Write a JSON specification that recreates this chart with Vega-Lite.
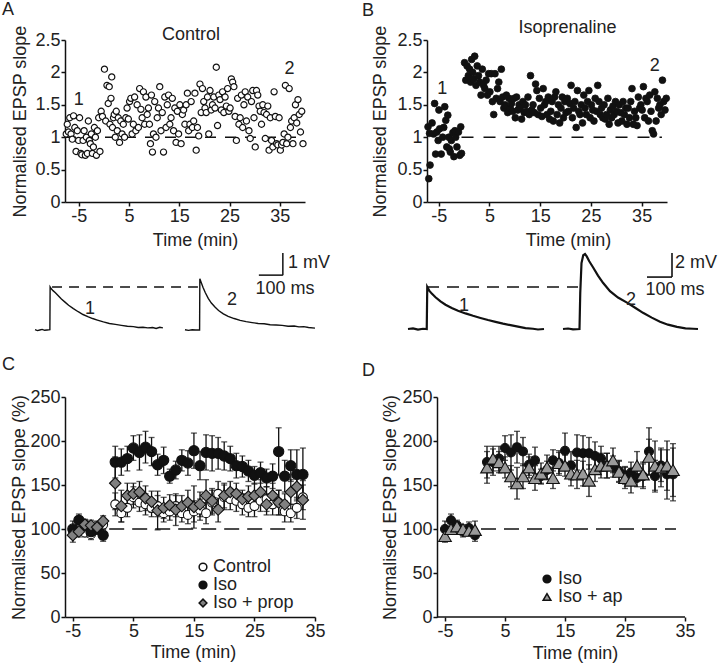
{
"$schema":"https://vega.github.io/schema/vega-lite/v6.json",
"autosize":"none",
"padding":{"left":65,"top":40,"right":655,"bottom":626},
"background":"white",
"columns":2,
"spacing":{"row":50,"column":112},
"bounds":"flush",
"align":"each",
"resolve":{"scale":{"fill":"independent","shape":"independent","size":"independent","stroke":"independent"},"legend":{"fill":"independent","shape":"independent","size":"independent","stroke":"independent"}},
"datasets":{
"ctrl":[{"t":-7.5,"v":1.05},{"t":-7.3,"v":1.2},{"t":-7.05,"v":1.08},{"t":-6.8,"v":1.3},{"t":-6.55,"v":1.05},{"t":-6.3,"v":0.97},{"t":-6.05,"v":1.33},{"t":-5.8,"v":1.15},{"t":-5.55,"v":0.78},{"t":-5.3,"v":1.1},{"t":-5.05,"v":0.95},
{"t":-4.85,"v":1.3},{"t":-4.6,"v":0.75},{"t":-4.4,"v":0.73},{"t":-4.15,"v":0.95},{"t":-3.95,"v":1.1},{"t":-3.7,"v":0.72},{"t":-3.5,"v":1.0},{"t":-3.3,"v":0.75},{"t":-3.1,"v":1.25},
{"t":-2.9,"v":0.95},{"t":-2.7,"v":0.9},{"t":-2.5,"v":1.05},{"t":-2.3,"v":0.75},{"t":-2.1,"v":0.85},{"t":-1.9,"v":1.15},{"t":-1.7,"v":1.0},{"t":-1.5,"v":0.72},{"t":-1.3,"v":1.1},
{"t":-1.05,"v":1.3},{"t":-0.8,"v":0.78},{"t":-0.55,"v":1.4},{"t":-0.3,"v":1.32},
{"t":0.1,"v":2.05},{"t":0.35,"v":1.25},{"t":0.6,"v":1.8},{"t":0.85,"v":1.52},
{"t":1.05,"v":1.78},{"t":1.2,"v":1.2},{"t":1.4,"v":1.6},{"t":1.55,"v":1.93},{"t":1.7,"v":1.15},{"t":1.9,"v":1.3},
{"t":2.05,"v":1.35},{"t":2.25,"v":1.0},{"t":2.45,"v":1.4},{"t":2.65,"v":1.1},{"t":2.85,"v":1.3},
{"t":3.1,"v":0.92},{"t":3.35,"v":1.25},{"t":3.6,"v":1.05},{"t":3.85,"v":1.2},
{"t":4.1,"v":1.0},{"t":4.35,"v":1.3},{"t":4.6,"v":1.45},{"t":4.85,"v":1.28},
{"t":5.1,"v":1.55},{"t":5.35,"v":1.6},{"t":5.6,"v":1.05},{"t":5.85,"v":1.2},
{"t":6.1,"v":1.62},{"t":6.35,"v":1.1},{"t":6.6,"v":1.5},{"t":6.85,"v":1.15},
{"t":7.1,"v":1.75},{"t":7.35,"v":1.43},{"t":7.6,"v":1.3},{"t":7.85,"v":1.7},
{"t":8.1,"v":1.2},{"t":8.35,"v":1.62},{"t":8.6,"v":1.35},{"t":8.85,"v":1.45},
{"t":9.05,"v":1.2},{"t":9.25,"v":0.9},{"t":9.45,"v":1.65},{"t":9.65,"v":0.77},{"t":9.85,"v":1.05},
{"t":10.1,"v":1.55},{"t":10.35,"v":1.0},{"t":10.6,"v":1.3},{"t":10.85,"v":1.45},
{"t":11.1,"v":1.78},{"t":11.35,"v":1.1},{"t":11.6,"v":1.38},{"t":11.85,"v":0.77},
{"t":12.1,"v":1.62},{"t":12.35,"v":1.15},{"t":12.6,"v":1.5},{"t":12.85,"v":1.65},
{"t":13.1,"v":1.2},{"t":13.35,"v":1.3},{"t":13.6,"v":1.6},{"t":13.85,"v":1.1},
{"t":14.1,"v":1.45},{"t":14.35,"v":0.92},{"t":14.6,"v":1.4},{"t":14.85,"v":1.05},
{"t":15.1,"v":1.5},{"t":15.35,"v":0.9},{"t":15.6,"v":1.35},{"t":15.85,"v":1.42},
{"t":16.1,"v":1.2},{"t":16.35,"v":1.5},{"t":16.6,"v":1.68},{"t":16.85,"v":1.1},
{"t":17.1,"v":1.2},{"t":17.35,"v":1.55},{"t":17.6,"v":1.15},{"t":17.85,"v":1.25},
{"t":18.1,"v":1.68},{"t":18.35,"v":0.8},{"t":18.6,"v":1.15},{"t":18.85,"v":1.02},
{"t":19.1,"v":1.82},{"t":19.35,"v":1.38},{"t":19.6,"v":1.75},{"t":19.85,"v":1.55},
{"t":20.1,"v":1.45},{"t":20.35,"v":1.38},{"t":20.6,"v":1.62},{"t":20.85,"v":1.05},
{"t":21.1,"v":1.72},{"t":21.35,"v":1.42},{"t":21.6,"v":1.5},{"t":21.85,"v":1.62},
{"t":22.1,"v":1.45},{"t":22.35,"v":2.08},{"t":22.6,"v":1.18},{"t":22.85,"v":1.65},
{"t":23.1,"v":1.58},{"t":23.35,"v":1.42},{"t":23.6,"v":1.7},{"t":23.85,"v":1.38},
{"t":24.1,"v":1.62},{"t":24.35,"v":1.48},{"t":24.6,"v":1.75},{"t":24.85,"v":1.4},
{"t":25.1,"v":1.45},{"t":25.35,"v":1.9},{"t":25.6,"v":1.85},{"t":25.85,"v":1.78},
{"t":26.1,"v":1.32},{"t":26.35,"v":0.95},{"t":26.6,"v":1.6},{"t":26.85,"v":1.2},
{"t":27.1,"v":1.3},{"t":27.35,"v":1.65},{"t":27.6,"v":1.15},{"t":27.85,"v":1.5},
{"t":28.1,"v":1.7},{"t":28.35,"v":1.25},{"t":28.6,"v":1.62},{"t":28.85,"v":1.1},
{"t":29.1,"v":0.98},{"t":29.35,"v":1.55},{"t":29.6,"v":1.72},{"t":29.85,"v":1.3},
{"t":30.1,"v":0.85},{"t":30.35,"v":1.72},{"t":30.6,"v":1.65},{"t":30.85,"v":1.48},
{"t":31.1,"v":1.4},{"t":31.35,"v":1.2},{"t":31.6,"v":1.5},{"t":31.85,"v":1.38},
{"t":32.1,"v":0.98},{"t":32.35,"v":1.35},{"t":32.6,"v":1.48},{"t":32.85,"v":0.8},
{"t":33.1,"v":1.3},{"t":33.35,"v":0.95},{"t":33.6,"v":0.85},{"t":33.85,"v":1.7},
{"t":34.1,"v":1.32},{"t":34.35,"v":0.9},{"t":34.6,"v":0.88},{"t":34.85,"v":1.3},
{"t":35.1,"v":0.8},{"t":35.35,"v":0.88},{"t":35.6,"v":0.92},{"t":35.85,"v":1.05},
{"t":36.1,"v":1.8},{"t":36.35,"v":0.9},{"t":36.6,"v":1.0},{"t":36.85,"v":1.75},
{"t":37.1,"v":1.15},{"t":37.35,"v":1.25},{"t":37.6,"v":0.9},{"t":37.85,"v":1.3},
{"t":38.1,"v":1.5},{"t":38.35,"v":1.22},{"t":38.6,"v":1.58},{"t":38.85,"v":1.35},
{"t":39.1,"v":1.08},{"t":39.35,"v":1.4},{"t":39.6,"v":0.9}],
"isop":[{"t":-7.1,"v":1.16},{"t":-6.95,"v":0.36},{"t":-6.8,"v":1.06},{"t":-6.7,"v":0.57},{"t":-6.3,"v":1.22},{"t":-6.0,"v":1.05},{"t":-5.8,"v":1.52},{"t":-5.6,"v":0.74},{"t":-5.35,"v":1.08},{"t":-5.1,"v":0.95},{"t":-4.95,"v":1.42},{"t":-4.8,"v":1.13},{"t":-4.5,"v":0.74},{"t":-4.2,"v":1.0},{"t":-4.0,"v":1.15},{"t":-3.8,"v":1.47},{"t":-3.6,"v":1.26},{"t":-3.4,"v":0.85},{"t":-3.2,"v":1.34},{"t":-3.0,"v":1.0},{"t":-2.9,"v":0.82},{"t":-2.7,"v":0.77},{"t":-2.5,"v":0.95},{"t":-2.2,"v":1.07},{"t":-2.0,"v":0.7},{"t":-1.8,"v":1.1},{"t":-1.65,"v":1.0},{"t":-1.4,"v":0.85},{"t":-1.1,"v":1.08},{"t":-0.85,"v":0.72},{"t":-0.65,"v":1.16},{"t":-0.5,"v":0.75},
{"t":0.1,"v":2.15},{"t":0.35,"v":1.88},{"t":0.6,"v":2.1},{"t":0.85,"v":1.95},
{"t":1.1,"v":2.05},{"t":1.3,"v":1.85},{"t":1.5,"v":2.2},{"t":1.7,"v":2.0},{"t":1.9,"v":1.9},
{"t":2.1,"v":2.25},{"t":2.35,"v":1.8},{"t":2.6,"v":2.1},{"t":2.85,"v":1.95},
{"t":3.1,"v":1.85},{"t":3.35,"v":1.65},{"t":3.6,"v":2.05},{"t":3.85,"v":1.8},
{"t":4.1,"v":1.75},{"t":4.35,"v":1.88},{"t":4.6,"v":1.65},{"t":4.85,"v":1.98},
{"t":5.1,"v":1.7},{"t":5.35,"v":1.98},{"t":5.6,"v":1.55},{"t":5.85,"v":1.35},
{"t":6.1,"v":1.98},{"t":6.35,"v":1.6},{"t":6.6,"v":1.75},{"t":6.85,"v":1.85},
{"t":7.1,"v":1.55},{"t":7.35,"v":2.05},{"t":7.6,"v":1.62},{"t":7.85,"v":1.45},
{"t":8.1,"v":1.5},{"t":8.35,"v":1.65},{"t":8.6,"v":1.38},{"t":8.85,"v":1.6},
{"t":9.1,"v":1.45},{"t":9.35,"v":1.52},{"t":9.6,"v":1.4},{"t":9.85,"v":1.6},
{"t":10.1,"v":1.3},{"t":10.35,"v":1.62},{"t":10.6,"v":1.42},{"t":10.85,"v":1.5},
{"t":11.1,"v":1.45},{"t":11.35,"v":1.28},{"t":11.6,"v":1.55},{"t":11.85,"v":1.38},
{"t":12.1,"v":1.5},{"t":12.35,"v":1.4},{"t":12.6,"v":1.62},{"t":12.85,"v":1.35},
{"t":13.1,"v":1.95},{"t":13.35,"v":1.42},{"t":13.6,"v":1.5},{"t":13.85,"v":1.38},
{"t":14.1,"v":1.82},{"t":14.35,"v":1.72},{"t":14.6,"v":1.35},{"t":14.85,"v":1.6},
{"t":15.1,"v":1.45},{"t":15.35,"v":1.32},{"t":15.6,"v":1.75},{"t":15.85,"v":1.5},
{"t":16.1,"v":1.55},{"t":16.35,"v":1.35},{"t":16.6,"v":1.62},{"t":16.85,"v":1.28},
{"t":17.1,"v":1.4},{"t":17.35,"v":1.55},{"t":17.6,"v":1.25},{"t":17.85,"v":1.62},
{"t":18.1,"v":1.7},{"t":18.35,"v":1.35},{"t":18.6,"v":1.5},{"t":18.85,"v":1.22},
{"t":19.1,"v":1.45},{"t":19.35,"v":1.62},{"t":19.6,"v":1.3},{"t":19.85,"v":1.55},
{"t":20.1,"v":1.38},{"t":20.35,"v":1.6},{"t":20.6,"v":1.4},{"t":20.85,"v":1.52},
{"t":21.1,"v":1.8},{"t":21.35,"v":1.3},{"t":21.6,"v":1.45},{"t":21.85,"v":1.55},
{"t":22.1,"v":1.15},{"t":22.35,"v":1.72},{"t":22.6,"v":1.4},{"t":22.85,"v":1.35},
{"t":23.1,"v":1.5},{"t":23.35,"v":1.22},{"t":23.6,"v":1.65},{"t":23.85,"v":1.45},
{"t":24.1,"v":1.35},{"t":24.35,"v":1.55},{"t":24.6,"v":1.72},{"t":24.85,"v":1.3},
{"t":25.1,"v":1.5},{"t":25.35,"v":1.42},{"t":25.6,"v":1.25},{"t":25.85,"v":1.6},
{"t":26.1,"v":1.4},{"t":26.35,"v":1.8},{"t":26.6,"v":1.55},{"t":26.85,"v":1.35},
{"t":27.1,"v":1.45},{"t":27.35,"v":1.3},{"t":27.6,"v":1.5},{"t":27.85,"v":1.28},
{"t":28.1,"v":1.35},{"t":28.35,"v":1.6},{"t":28.6,"v":1.2},{"t":28.85,"v":1.42},
{"t":29.1,"v":1.3},{"t":29.35,"v":1.48},{"t":29.6,"v":1.35},{"t":29.85,"v":1.55},
{"t":30.1,"v":1.4},{"t":30.35,"v":1.22},{"t":30.6,"v":1.5},{"t":30.85,"v":1.38},
{"t":31.1,"v":1.25},{"t":31.35,"v":1.55},{"t":31.6,"v":1.35},{"t":31.85,"v":1.45},
{"t":32.1,"v":1.2},{"t":32.35,"v":1.45},{"t":32.6,"v":1.3},{"t":32.85,"v":1.55},
{"t":33.1,"v":1.75},{"t":33.35,"v":1.2},{"t":33.6,"v":1.4},{"t":33.85,"v":1.3},
{"t":34.1,"v":1.18},{"t":34.35,"v":1.62},{"t":34.6,"v":1.45},{"t":34.85,"v":1.5},
{"t":35.1,"v":1.42},{"t":35.35,"v":1.78},{"t":35.6,"v":1.3},{"t":35.85,"v":1.6},
{"t":36.1,"v":1.55},{"t":36.35,"v":1.25},{"t":36.6,"v":1.65},{"t":36.85,"v":1.4},
{"t":37.1,"v":1.1},{"t":37.35,"v":1.05},{"t":37.6,"v":1.7},{"t":37.85,"v":1.25},
{"t":38.1,"v":1.6},{"t":38.35,"v":1.45},{"t":38.6,"v":1.5},{"t":38.85,"v":1.35},
{"t":39.1,"v":1.88},{"t":39.35,"v":1.55},{"t":39.6,"v":1.42},{"t":39.85,"v":1.6}],
"trA":[{"s":"1","ms":0,"mv":0.01},{"s":"1","ms":10,"mv":-0.02},{"s":"1","ms":20,"mv":0.0},{"s":"1","ms":30,"mv":0.02},{"s":"1","ms":40,"mv":-0.01},{"s":"1","ms":50,"mv":0.0},{"s":"1","ms":62,"mv":0.01},{"s":"1","ms":63,"mv":1.39},{"s":"1","ms":68,"mv":1.33},{"s":"1","ms":75,"mv":1.27},{"s":"1","ms":85,"mv":1.2},{"s":"1","ms":95,"mv":1.12},{"s":"1","ms":110,"mv":1.0},{"s":"1","ms":125,"mv":0.9},{"s":"1","ms":140,"mv":0.8},{"s":"1","ms":160,"mv":0.69},{"s":"1","ms":180,"mv":0.59},{"s":"1","ms":200,"mv":0.5},{"s":"1","ms":220,"mv":0.43},{"s":"1","ms":240,"mv":0.37},{"s":"1","ms":260,"mv":0.32},{"s":"1","ms":285,"mv":0.26},{"s":"1","ms":310,"mv":0.21},{"s":"1","ms":335,"mv":0.18},{"s":"1","ms":360,"mv":0.15},{"s":"1","ms":385,"mv":0.12},{"s":"1","ms":410,"mv":0.11},{"s":"1","ms":430,"mv":0.08},{"s":"1","ms":450,"mv":0.09},{"s":"1","ms":470,"mv":0.07},{"s":"1","ms":490,"mv":0.08},{"s":"1","ms":505,"mv":0.05},{"s":"1","ms":520,"mv":0.09},{"s":"1","ms":533,"mv":0.07},
{"s":"2","ms":625,"mv":0.01},{"s":"2","ms":640,"mv":-0.01},{"s":"2","ms":655,"mv":0.01},{"s":"2","ms":670,"mv":0.0},{"s":"2","ms":686,"mv":0.0},{"s":"2","ms":687,"mv":1.65},{"s":"2","ms":692,"mv":1.55},{"s":"2","ms":700,"mv":1.38},{"s":"2","ms":710,"mv":1.2},{"s":"2","ms":722,"mv":1.02},{"s":"2","ms":735,"mv":0.87},{"s":"2","ms":750,"mv":0.74},{"s":"2","ms":765,"mv":0.63},{"s":"2","ms":785,"mv":0.52},{"s":"2","ms":805,"mv":0.44},{"s":"2","ms":830,"mv":0.37},{"s":"2","ms":855,"mv":0.31},{"s":"2","ms":880,"mv":0.27},{"s":"2","ms":905,"mv":0.24},{"s":"2","ms":930,"mv":0.21},{"s":"2","ms":955,"mv":0.2},{"s":"2","ms":980,"mv":0.17},{"s":"2","ms":1005,"mv":0.16},{"s":"2","ms":1030,"mv":0.15},{"s":"2","ms":1055,"mv":0.12},{"s":"2","ms":1080,"mv":0.13},{"s":"2","ms":1100,"mv":0.1},{"s":"2","ms":1120,"mv":0.11},{"s":"2","ms":1140,"mv":0.08},{"s":"2","ms":1167,"mv":0.06}],
"trB":[{"s":"1","ms":0,"mv":0.0},{"s":"1","ms":20,"mv":0.05},{"s":"1","ms":40,"mv":-0.05},{"s":"1","ms":60,"mv":0.02},{"s":"1","ms":75,"mv":0.0},{"s":"1","ms":77,"mv":3.5},{"s":"1","ms":85,"mv":3.2},{"s":"1","ms":95,"mv":2.95},{"s":"1","ms":110,"mv":2.65},{"s":"1","ms":130,"mv":2.3},{"s":"1","ms":150,"mv":2.02},{"s":"1","ms":175,"mv":1.75},{"s":"1","ms":200,"mv":1.52},{"s":"1","ms":230,"mv":1.3},{"s":"1","ms":260,"mv":1.1},{"s":"1","ms":290,"mv":0.92},{"s":"1","ms":320,"mv":0.75},{"s":"1","ms":350,"mv":0.6},{"s":"1","ms":380,"mv":0.45},{"s":"1","ms":410,"mv":0.32},{"s":"1","ms":440,"mv":0.2},{"s":"1","ms":470,"mv":0.08},{"s":"1","ms":500,"mv":0.02},{"s":"1","ms":520,"mv":-0.04},{"s":"1","ms":544,"mv":0.0},
{"s":"2","ms":620,"mv":0.0},{"s":"2","ms":640,"mv":0.04},{"s":"2","ms":660,"mv":-0.03},{"s":"2","ms":686,"mv":0.0},{"s":"2","ms":689,"mv":3.0},{"s":"2","ms":694,"mv":5.5},{"s":"2","ms":701,"mv":6.15},{"s":"2","ms":708,"mv":6.25},{"s":"2","ms":715,"mv":6.05},{"s":"2","ms":725,"mv":5.65},{"s":"2","ms":740,"mv":5.15},{"s":"2","ms":760,"mv":4.45},{"s":"2","ms":780,"mv":3.85},{"s":"2","ms":808,"mv":3.15},{"s":"2","ms":840,"mv":2.62},{"s":"2","ms":876,"mv":2.2},{"s":"2","ms":910,"mv":1.75},{"s":"2","ms":940,"mv":1.35},{"s":"2","ms":975,"mv":0.95},{"s":"2","ms":1008,"mv":0.6},{"s":"2","ms":1040,"mv":0.36},{"s":"2","ms":1076,"mv":0.18},{"s":"2","ms":1110,"mv":0.06},{"s":"2","ms":1140,"mv":0.02},{"s":"2","ms":1160,"mv":0.0}],
"c":[
{"g":"Control","t":-5,"m":98,"e":6},{"g":"Control","t":-4,"m":100,"e":6},{"g":"Control","t":-3,"m":96,"e":5},{"g":"Control","t":-2,"m":94,"e":6},{"g":"Control","t":-1,"m":100,"e":6},{"g":"Control","t":0,"m":105,"e":6},
{"g":"Control","t":2,"m":128,"e":13},{"g":"Control","t":3,"m":118,"e":10},{"g":"Control","t":4,"m":124,"e":10},{"g":"Control","t":5,"m":136,"e":12},{"g":"Control","t":6,"m":130,"e":10},{"g":"Control","t":7,"m":128,"e":12},{"g":"Control","t":8,"m":124,"e":10},{"g":"Control","t":9,"m":126,"e":12},{"g":"Control","t":10,"m":118,"e":10},{"g":"Control","t":11,"m":120,"e":10},{"g":"Control","t":12,"m":126,"e":12},{"g":"Control","t":13,"m":118,"e":10},{"g":"Control","t":14,"m":116,"e":10},{"g":"Control","t":15,"m":120,"e":12},{"g":"Control","t":16,"m":122,"e":12},{"g":"Control","t":17,"m":118,"e":12},{"g":"Control","t":18,"m":130,"e":14},{"g":"Control","t":19,"m":140,"e":14},{"g":"Control","t":20,"m":136,"e":14},{"g":"Control","t":21,"m":134,"e":12},{"g":"Control","t":22,"m":132,"e":12},{"g":"Control","t":23,"m":128,"e":12},{"g":"Control","t":24,"m":124,"e":10},{"g":"Control","t":25,"m":126,"e":12},{"g":"Control","t":26,"m":132,"e":12},{"g":"Control","t":27,"m":134,"e":14},{"g":"Control","t":28,"m":128,"e":12},{"g":"Control","t":29,"m":130,"e":14},{"g":"Control","t":30,"m":120,"e":12},{"g":"Control","t":31,"m":118,"e":10},{"g":"Control","t":32,"m":124,"e":12},{"g":"Control","t":33,"m":136,"e":14},
{"g":"Iso","t":-5,"m":100,"e":9},{"g":"Iso","t":-4,"m":110,"e":7},{"g":"Iso","t":-3,"m":104,"e":6},{"g":"Iso","t":-2,"m":97,"e":6},{"g":"Iso","t":-1,"m":101,"e":7},{"g":"Iso","t":0,"m":93,"e":7},
{"g":"Iso","t":2,"m":176,"e":18},{"g":"Iso","t":3,"m":176,"e":15},{"g":"Iso","t":4,"m":180,"e":14},{"g":"Iso","t":5,"m":192,"e":14},{"g":"Iso","t":6,"m":187,"e":20},{"g":"Iso","t":7,"m":193,"e":18},{"g":"Iso","t":8,"m":188,"e":16},{"g":"Iso","t":9,"m":173,"e":12},{"g":"Iso","t":10,"m":178,"e":15},{"g":"Iso","t":11,"m":160,"e":8},{"g":"Iso","t":12,"m":167,"e":10},{"g":"Iso","t":13,"m":178,"e":12},{"g":"Iso","t":14,"m":175,"e":14},{"g":"Iso","t":15,"m":189,"e":20},{"g":"Iso","t":16,"m":172,"e":16},{"g":"Iso","t":17,"m":187,"e":20},{"g":"Iso","t":18,"m":186,"e":20},{"g":"Iso","t":19,"m":186,"e":18},{"g":"Iso","t":20,"m":183,"e":16},{"g":"Iso","t":21,"m":180,"e":14},{"g":"Iso","t":22,"m":172,"e":14},{"g":"Iso","t":23,"m":171,"e":12},{"g":"Iso","t":24,"m":166,"e":12},{"g":"Iso","t":25,"m":161,"e":10},{"g":"Iso","t":26,"m":164,"e":12},{"g":"Iso","t":27,"m":158,"e":10},{"g":"Iso","t":28,"m":160,"e":14},{"g":"Iso","t":29,"m":188,"e":27},{"g":"Iso","t":30,"m":160,"e":18},{"g":"Iso","t":31,"m":172,"e":18},{"g":"Iso","t":32,"m":162,"e":28},{"g":"Iso","t":33,"m":162,"e":30},
{"g":"Iso + prop","t":-5,"m":93,"e":8},{"g":"Iso + prop","t":-4,"m":97,"e":6},{"g":"Iso + prop","t":-3,"m":105,"e":6},{"g":"Iso + prop","t":-2,"m":104,"e":6},{"g":"Iso + prop","t":-1,"m":102,"e":7},{"g":"Iso + prop","t":0,"m":109,"e":6},
{"g":"Iso + prop","t":2,"m":152,"e":30},{"g":"Iso + prop","t":3,"m":126,"e":18},{"g":"Iso + prop","t":4,"m":138,"e":14},{"g":"Iso + prop","t":5,"m":140,"e":12},{"g":"Iso + prop","t":6,"m":142,"e":12},{"g":"Iso + prop","t":7,"m":135,"e":14},{"g":"Iso + prop","t":8,"m":131,"e":12},{"g":"Iso + prop","t":9,"m":121,"e":22},{"g":"Iso + prop","t":10,"m":124,"e":12},{"g":"Iso + prop","t":11,"m":127,"e":12},{"g":"Iso + prop","t":12,"m":122,"e":18},{"g":"Iso + prop","t":13,"m":126,"e":12},{"g":"Iso + prop","t":14,"m":130,"e":14},{"g":"Iso + prop","t":15,"m":125,"e":24},{"g":"Iso + prop","t":16,"m":128,"e":14},{"g":"Iso + prop","t":17,"m":138,"e":18},{"g":"Iso + prop","t":18,"m":132,"e":14},{"g":"Iso + prop","t":19,"m":122,"e":14},{"g":"Iso + prop","t":20,"m":138,"e":14},{"g":"Iso + prop","t":21,"m":142,"e":12},{"g":"Iso + prop","t":22,"m":140,"e":12},{"g":"Iso + prop","t":23,"m":134,"e":10},{"g":"Iso + prop","t":24,"m":137,"e":12},{"g":"Iso + prop","t":25,"m":138,"e":14},{"g":"Iso + prop","t":26,"m":142,"e":14},{"g":"Iso + prop","t":27,"m":128,"e":12},{"g":"Iso + prop","t":28,"m":138,"e":14},{"g":"Iso + prop","t":29,"m":130,"e":14},{"g":"Iso + prop","t":30,"m":128,"e":12},{"g":"Iso + prop","t":31,"m":142,"e":14},{"g":"Iso + prop","t":32,"m":148,"e":16},{"g":"Iso + prop","t":33,"m":133,"e":22}],
"d":[
{"g":"Iso","t":-5,"m":100,"e":9},{"g":"Iso","t":-4,"m":110,"e":7},{"g":"Iso","t":-3,"m":104,"e":6},{"g":"Iso","t":-2,"m":97,"e":6},{"g":"Iso","t":-1,"m":101,"e":7},{"g":"Iso","t":0,"m":93,"e":7},
{"g":"Iso","t":2,"m":176,"e":18},{"g":"Iso","t":3,"m":176,"e":15},{"g":"Iso","t":4,"m":180,"e":14},{"g":"Iso","t":5,"m":192,"e":14},{"g":"Iso","t":6,"m":187,"e":20},{"g":"Iso","t":7,"m":193,"e":18},{"g":"Iso","t":8,"m":188,"e":16},{"g":"Iso","t":9,"m":173,"e":12},{"g":"Iso","t":10,"m":178,"e":15},{"g":"Iso","t":11,"m":160,"e":8},{"g":"Iso","t":12,"m":167,"e":10},{"g":"Iso","t":13,"m":178,"e":12},{"g":"Iso","t":14,"m":175,"e":14},{"g":"Iso","t":15,"m":189,"e":20},{"g":"Iso","t":16,"m":172,"e":16},{"g":"Iso","t":17,"m":187,"e":20},{"g":"Iso","t":18,"m":186,"e":20},{"g":"Iso","t":19,"m":186,"e":18},{"g":"Iso","t":20,"m":183,"e":16},{"g":"Iso","t":21,"m":180,"e":14},{"g":"Iso","t":22,"m":172,"e":14},{"g":"Iso","t":23,"m":171,"e":12},{"g":"Iso","t":24,"m":166,"e":12},{"g":"Iso","t":25,"m":161,"e":10},{"g":"Iso","t":26,"m":164,"e":12},{"g":"Iso","t":27,"m":158,"e":10},{"g":"Iso","t":28,"m":160,"e":14},{"g":"Iso","t":29,"m":188,"e":27},{"g":"Iso","t":30,"m":160,"e":18},{"g":"Iso","t":31,"m":172,"e":18},{"g":"Iso","t":32,"m":162,"e":28},{"g":"Iso","t":33,"m":162,"e":30},
{"g":"Iso + ap","t":-5,"m":92,"e":7},{"g":"Iso + ap","t":-4,"m":100,"e":6},{"g":"Iso + ap","t":-3,"m":103,"e":5},{"g":"Iso + ap","t":-2,"m":100,"e":5},{"g":"Iso + ap","t":-1,"m":98,"e":6},{"g":"Iso + ap","t":0,"m":99,"e":10},
{"g":"Iso + ap","t":2,"m":170,"e":18},{"g":"Iso + ap","t":3,"m":180,"e":14},{"g":"Iso + ap","t":4,"m":176,"e":12},{"g":"Iso + ap","t":5,"m":170,"e":12},{"g":"Iso + ap","t":6,"m":160,"e":12},{"g":"Iso + ap","t":7,"m":152,"e":18},{"g":"Iso + ap","t":8,"m":160,"e":14},{"g":"Iso + ap","t":9,"m":170,"e":12},{"g":"Iso + ap","t":10,"m":158,"e":14},{"g":"Iso + ap","t":11,"m":163,"e":12},{"g":"Iso + ap","t":12,"m":170,"e":14},{"g":"Iso + ap","t":13,"m":158,"e":12},{"g":"Iso + ap","t":14,"m":175,"e":12},{"g":"Iso + ap","t":15,"m":172,"e":12},{"g":"Iso + ap","t":16,"m":163,"e":14},{"g":"Iso + ap","t":17,"m":162,"e":16},{"g":"Iso + ap","t":18,"m":163,"e":14},{"g":"Iso + ap","t":19,"m":155,"e":18},{"g":"Iso + ap","t":20,"m":168,"e":14},{"g":"Iso + ap","t":21,"m":172,"e":14},{"g":"Iso + ap","t":22,"m":172,"e":14},{"g":"Iso + ap","t":23,"m":178,"e":14},{"g":"Iso + ap","t":24,"m":165,"e":12},{"g":"Iso + ap","t":25,"m":158,"e":12},{"g":"Iso + ap","t":26,"m":155,"e":14},{"g":"Iso + ap","t":27,"m":172,"e":16},{"g":"Iso + ap","t":28,"m":162,"e":14},{"g":"Iso + ap","t":29,"m":182,"e":20},{"g":"Iso + ap","t":30,"m":172,"e":28},{"g":"Iso + ap","t":31,"m":170,"e":22},{"g":"Iso + ap","t":32,"m":172,"e":28},{"g":"Iso + ap","t":33,"m":167,"e":30}]
},
"concat":[
{"width":240,"height":162,
 "title":{"text":"A","anchor":"start","frame":"group","dx":-63,"offset":-8,"baseline":"alphabetic"},
 "layer":[
  {"data":{"values":[{"a":-7.75,"b":39.2,"v":1}]},
   "mark":{"type":"rule","strokeDash":[11,9],"strokeWidth":1.5,"color":"#111"},
   "encoding":{"x":{"field":"a","type":"quantitative","scale":{"domain":[-7.75,40],"nice":false,"zero":false},
      "axis":{"orient":"bottom","title":"Time (min)","values":[-5,0,5,10,15,20,25,30,35,40],"labelExpr":"datum.value == 10 || datum.value == 20 || datum.value == 30 || datum.value == 40 ? '' : datum.value + ''","titleX":130,"titleY":38,"titleBaseline":"middle","titleAlign":"center"}},
    "x2":{"field":"b"},
    "y":{"field":"v","type":"quantitative","scale":{"domain":[0,2.5],"nice":false,"zero":false},
      "axis":{"title":"Normalised EPSP slope","values":[0,0.5,1,1.5,2,2.5],"tickCount":6,"tickMinStep":0.5,"labelExpr":"datum.value + ''","labelOverlap":false,"labelBound":false,"titleX":-45,"titleBaseline":"middle","titleAlign":"center"}}}},
  {"data":{"name":"ctrl"},
   "mark":{"type":"point","shape":"circle","filled":true,"fill":"white","stroke":"#111","strokeWidth":1.2,"size":38,"opacity":1},
   "encoding":{"x":{"field":"t","type":"quantitative"},"y":{"field":"v","type":"quantitative"}}},
  {"data":{"values":[{"t":-5,"v":1.57,"s":"1"},{"t":36.9,"v":2.06,"s":"2"},{"t":17.3,"v":2.57,"s":"Control"}]},
   "mark":{"type":"text","fontSize":18,"color":"#222","baseline":"middle"},
   "encoding":{"x":{"field":"t","type":"quantitative"},"y":{"field":"v","type":"quantitative"},"text":{"field":"s"}}}
 ]},
{"width":240,"height":162,
 "title":{"text":"B","anchor":"start","frame":"group","dx":-65,"offset":-15,"baseline":"alphabetic"},
 "layer":[
  {"data":{"values":[{"a":-0.5,"b":39,"v":1}]},
   "mark":{"type":"rule","strokeDash":[12,10],"strokeWidth":1.5,"color":"#111"},
   "encoding":{"x":{"field":"a","type":"quantitative","scale":{"domain":[-7.3,40],"nice":false,"zero":false},
      "axis":{"orient":"bottom","title":"Time (min)","values":[-5,0,5,10,15,20,25,30,35,40],"labelExpr":"datum.value == 10 || datum.value == 20 || datum.value == 30 || datum.value == 40 ? '' : datum.value + ''","titleX":141,"titleY":38,"titleBaseline":"middle","titleAlign":"center"}},
    "x2":{"field":"b"},
    "y":{"field":"v","type":"quantitative","scale":{"domain":[0,2.5],"nice":false,"zero":false},
      "axis":{"title":"Normalised EPSP slope","values":[0,0.5,1,1.5,2,2.5],"tickCount":6,"tickMinStep":0.5,"labelExpr":"datum.value + ''","labelOverlap":false,"labelBound":false,"titleX":-47,"titleBaseline":"middle","titleAlign":"center"}}}},
  {"data":{"name":"isop"},
   "mark":{"type":"point","shape":"circle","filled":true,"fill":"#111","stroke":"#111","strokeWidth":0.8,"size":46,"opacity":1},
   "encoding":{"x":{"field":"t","type":"quantitative"},"y":{"field":"v","type":"quantitative"}}},
  {"data":{"values":[{"t":-4.3,"v":1.75,"s":"1"},{"t":37.6,"v":2.1,"s":"2"},{"t":20.4,"v":2.68,"s":"Isoprenaline"}]},
   "mark":{"type":"text","fontSize":18,"color":"#222","baseline":"middle"},
   "encoding":{"x":{"field":"t","type":"quantitative"},"y":{"field":"v","type":"quantitative"},"text":{"field":"s"}}}
 ]},
{"width":250,"height":95,
 "layer":[
  {"data":{"name":"trA"},
   "mark":{"type":"line","color":"#111","strokeWidth":1.4},
   "encoding":{"x":{"field":"ms","type":"quantitative","scale":{"domain":[125,1167],"nice":false,"zero":false},"axis":null},
    "y":{"field":"mv","type":"quantitative","scale":{"domain":[-0.548,2.516],"nice":false,"zero":false},"axis":null},
    "detail":{"field":"s"}}},
  {"data":{"values":[{"a":71,"b":679,"mv":1.39}]},
   "mark":{"type":"rule","strokeDash":[10,7],"strokeWidth":1.5,"color":"#111"},
   "encoding":{"x":{"field":"a","type":"quantitative","axis":null},"x2":{"field":"b"},"y":{"field":"mv","type":"quantitative","axis":null}}},
  {"data":{"values":[{"a":933,"b":1033,"lo":1.77,"hi":1.77},{"a":1033,"b":1033,"lo":1.77,"hi":2.48}]},
   "mark":{"type":"rule","strokeWidth":1.5,"color":"#111"},
   "encoding":{"x":{"field":"a","type":"quantitative","axis":null},"x2":{"field":"b"},"y":{"field":"lo","type":"quantitative","axis":null},"y2":{"field":"hi"}}},
  {"data":{"values":[{"ms":229,"mv":0.68,"s":"1"},{"ms":821,"mv":0.97,"s":"2"},{"ms":1042,"mv":1.32,"s":"100 ms"}]},
   "mark":{"type":"text","fontSize":18,"color":"#222","align":"center","baseline":"middle"},
   "encoding":{"x":{"field":"ms","type":"quantitative","axis":null},"y":{"field":"mv","type":"quantitative","axis":null},"text":{"field":"s"}}},
  {"data":{"values":[{"ms":1054,"mv":2.16,"s":"1 mV"}]},
   "mark":{"type":"text","fontSize":18,"color":"#222","align":"left","baseline":"middle"},
   "encoding":{"x":{"field":"ms","type":"quantitative","axis":null},"y":{"field":"mv","type":"quantitative","axis":null},"text":{"field":"s"}}}
 ]},
{"width":250,"height":95,
 "layer":[
  {"data":{"name":"trB"},
   "mark":{"type":"line","color":"#111","strokeWidth":2.2},
   "encoding":{"x":{"field":"ms","type":"quantitative","scale":{"domain":[76,1076],"nice":false,"zero":false},"axis":null},
    "y":{"field":"mv","type":"quantitative","scale":{"domain":[-1.5,6.42],"nice":false,"zero":false},"axis":null},
    "detail":{"field":"s"}}},
  {"data":{"values":[{"a":76,"b":680,"mv":3.5}]},
   "mark":{"type":"rule","strokeDash":[12,8],"strokeWidth":1.6,"color":"#111"},
   "encoding":{"x":{"field":"a","type":"quantitative","axis":null},"x2":{"field":"b"},"y":{"field":"mv","type":"quantitative","axis":null}}},
  {"data":{"values":[{"a":956,"b":1056,"lo":4.33,"hi":4.33},{"a":1056,"b":1056,"lo":4.33,"hi":6.33}]},
   "mark":{"type":"rule","strokeWidth":1.6,"color":"#111"},
   "encoding":{"x":{"field":"a","type":"quantitative","axis":null},"x2":{"field":"b"},"y":{"field":"lo","type":"quantitative","axis":null},"y2":{"field":"hi"}}},
  {"data":{"values":[{"ms":224,"mv":1.92,"s":"1"},{"ms":892,"mv":2.42,"s":"2"},{"ms":1068,"mv":3.25,"s":"100 ms"}]},
   "mark":{"type":"text","fontSize":18,"color":"#222","align":"center","baseline":"middle"},
   "encoding":{"x":{"field":"ms","type":"quantitative","axis":null},"y":{"field":"mv","type":"quantitative","axis":null},"text":{"field":"s"}}},
  {"data":{"values":[{"ms":1068,"mv":5.5,"s":"2 mV"}]},
   "mark":{"type":"text","fontSize":18,"color":"#222","align":"left","baseline":"middle"},
   "encoding":{"x":{"field":"ms","type":"quantitative","axis":null},"y":{"field":"mv","type":"quantitative","axis":null},"text":{"field":"s"}}}
 ]},
{"width":250,"height":220,
 "title":{"text":"C","anchor":"start","frame":"group","dx":-63,"offset":0,"baseline":"alphabetic"},
 "layer":[
  {"data":{"values":[{"a":1,"b":33.5,"v":100}]},
   "mark":{"type":"rule","strokeDash":[15,8],"strokeWidth":1.5,"color":"#111"},
   "encoding":{"x":{"field":"a","type":"quantitative","scale":{"domain":[-6.3,35],"nice":false,"zero":false},
      "axis":{"orient":"bottom","title":"Time (min)","values":[-5,0,5,10,15,20,25,30,35],"labelExpr":"datum.value == 10 || datum.value == 20 || datum.value == 30 ? '' : datum.value + ''","titleX":128,"titleY":35,"titleBaseline":"middle","titleAlign":"center"}},
    "x2":{"field":"b"},
    "y":{"field":"v","type":"quantitative","scale":{"domain":[0,250],"nice":false,"zero":false},
      "axis":{"title":"Normalised EPSP slope (%)","values":[0,50,100,150,200,250],"titleX":-46,"titleBaseline":"middle","titleAlign":"center"}}}},
  {"data":{"name":"c"},
   "mark":{"type":"errorbar","ticks":true,"size":6,"thickness":1.3,"color":"#111"},
   "encoding":{"x":{"field":"t","type":"quantitative","title":"Time (min)"},"y":{"field":"m","type":"quantitative","title":"Normalised EPSP slope (%)"},"yError":{"field":"e"}}},
  {"data":{"name":"c"},
   "mark":{"type":"point","filled":true,"strokeWidth":1.1,"opacity":1},
   "encoding":{"x":{"field":"t","type":"quantitative"},
    "y":{"field":"m","type":"quantitative"},
    "fill":{"field":"g","type":"nominal","scale":{"domain":["Control","Iso","Iso + prop"],"range":["white","#111","#808080"]},
      "legend":{"orient":"none","legendX":129,"legendY":161,"title":null,"labelFontSize":18,"symbolSize":60,"rowPadding":-12,"padding":0,"labelOffset":1}},
    "shape":{"field":"g","type":"nominal","scale":{"domain":["Control","Iso","Iso + prop"],"range":["circle","circle","diamond"]},
      "legend":{"orient":"none","legendX":129,"legendY":161,"title":null,"labelFontSize":18,"symbolSize":60,"rowPadding":-12,"padding":0,"labelOffset":1}},
    "stroke":{"field":"g","type":"nominal","scale":{"domain":["Control","Iso","Iso + prop"],"range":["#111","#111","#111"]},
      "legend":{"orient":"none","legendX":129,"legendY":161,"title":null,"labelFontSize":18,"symbolSize":60,"rowPadding":-12,"padding":0,"labelOffset":1}},
    "size":{"field":"g","type":"nominal","scale":{"domain":["Iso + prop","Iso","Control"],"range":[130,80,70]},"legend":null}}}
 ]},
{"width":258,"height":220,
 "title":{"text":"D","anchor":"start","frame":"group","dx":-65,"offset":-6,"baseline":"alphabetic"},
 "layer":[
  {"data":{"values":[{"a":1,"b":33.5,"v":100}]},
   "mark":{"type":"rule","strokeDash":[15,8],"strokeWidth":1.5,"color":"#111"},
   "encoding":{"x":{"field":"a","type":"quantitative","scale":{"domain":[-8,35],"nice":false,"zero":false},
      "axis":{"orient":"bottom","domain":false,"title":"Time (min)","values":[-5,0,5,10,15,20,25,30,35],"labelExpr":"datum.value == 10 || datum.value == 20 || datum.value == 30 ? '' : datum.value + ''","titleX":148,"titleY":36,"titleBaseline":"middle","titleAlign":"center"}},
    "x2":{"field":"b"},
    "y":{"field":"v","type":"quantitative","scale":{"domain":[0,250],"nice":false,"zero":false},
      "axis":{"offset":-10,"title":"Normalised EPSP slope (%)","values":[0,50,100,150,200,250],"titleX":-47,"titleBaseline":"middle","titleAlign":"center"}}}},
  {"data":{"values":[{"a":-6.33,"b":35,"v":0}]},
   "mark":{"type":"rule","strokeWidth":1.5,"color":"#111"},
   "encoding":{"x":{"field":"a","type":"quantitative"},"x2":{"field":"b"},"y":{"field":"v","type":"quantitative"}}},
  {"data":{"name":"d"},
   "mark":{"type":"errorbar","ticks":true,"size":6,"thickness":1.3,"color":"#111"},
   "encoding":{"x":{"field":"t","type":"quantitative","title":"Time (min)"},"y":{"field":"m","type":"quantitative","title":"Normalised EPSP slope (%)"},"yError":{"field":"e"}}},
  {"data":{"name":"d"},
   "mark":{"type":"point","filled":true,"strokeWidth":1.1,"opacity":1},
   "encoding":{"x":{"field":"t","type":"quantitative"},
    "y":{"field":"m","type":"quantitative"},
    "fill":{"field":"g","type":"nominal","scale":{"domain":["Iso","Iso + ap"],"range":["#111","#9a9a9a"]},
      "legend":{"orient":"none","legendX":111,"legendY":173,"title":null,"labelFontSize":18,"symbolSize":60,"rowPadding":-4,"padding":0,"labelOffset":2}},
    "shape":{"field":"g","type":"nominal","scale":{"domain":["Iso","Iso + ap"],"range":["circle","triangle-up"]},
      "legend":{"orient":"none","legendX":111,"legendY":173,"title":null,"labelFontSize":18,"symbolSize":60,"rowPadding":-4,"padding":0,"labelOffset":2}},
    "stroke":{"field":"g","type":"nominal","scale":{"domain":["Iso","Iso + ap"],"range":["#111","#111"]},
      "legend":{"orient":"none","legendX":111,"legendY":173,"title":null,"labelFontSize":18,"symbolSize":60,"rowPadding":-4,"padding":0,"labelOffset":2}},
    "size":{"field":"g","type":"nominal","scale":{"domain":["Iso + ap","Iso"],"range":[160,80]},"legend":null}}}
 ]}
],
"config":{
 "font":"Liberation Sans",
 "view":{"stroke":null},
 "axis":{"labelFont":"Liberation Sans","titleFont":"Liberation Sans","labelFontSize":18,"titleFontSize":18,"titleFontWeight":"normal","labelColor":"#222","titleColor":"#222","domainColor":"#111","tickColor":"#111","domainWidth":1.5,"tickWidth":1.5,"tickSize":4,"labelPadding":1,"grid":false,"labelFlush":false,"labelOverlap":false},
 "title":{"font":"Liberation Sans","fontSize":18,"fontWeight":"normal","color":"#222"},
 "text":{"font":"Liberation Sans"},
 "legend":{"labelFont":"Liberation Sans","labelColor":"#222"}
}
}
